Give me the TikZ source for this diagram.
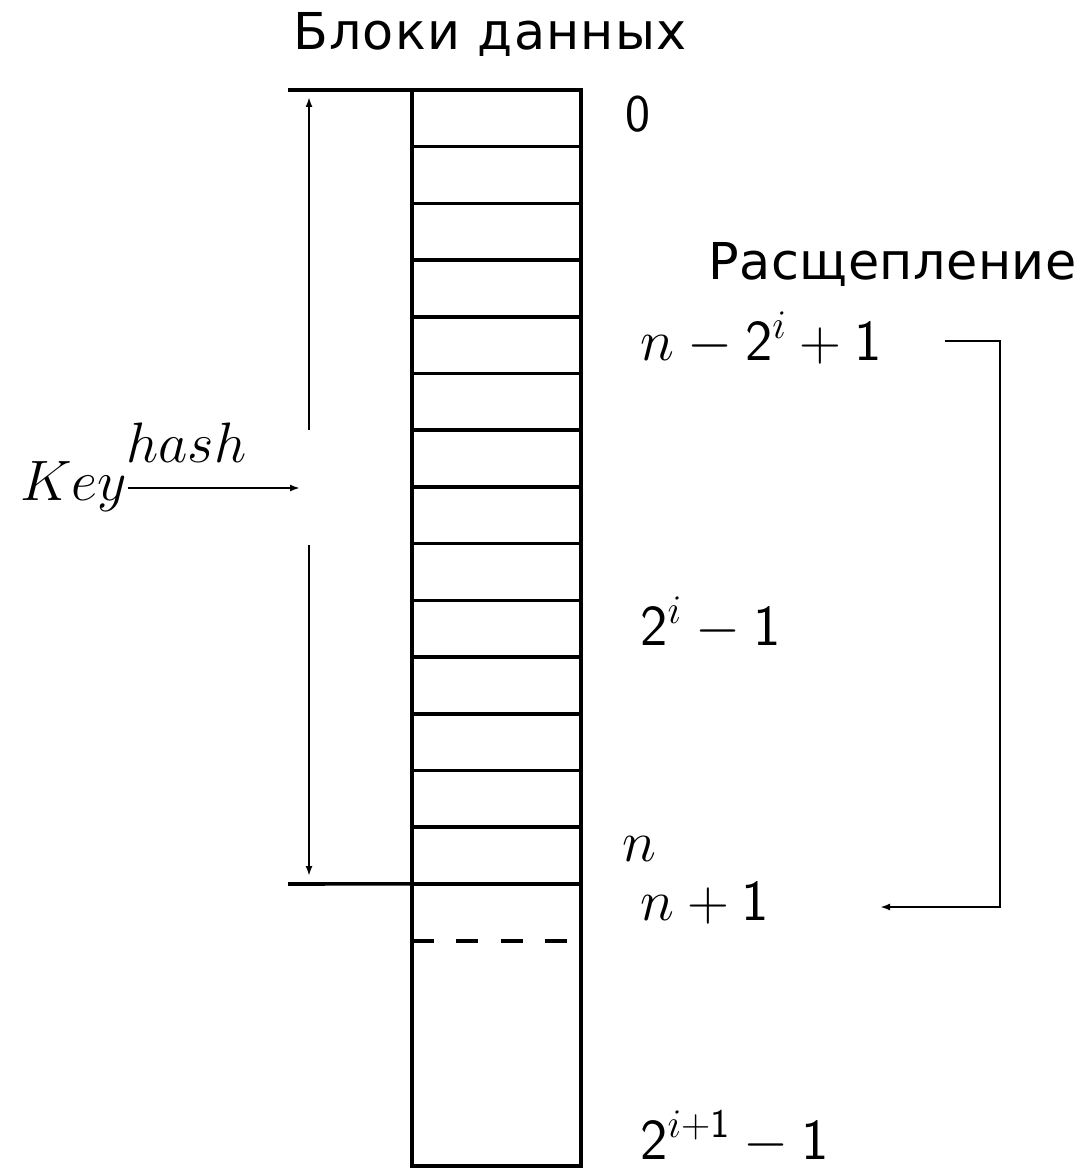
\RequirePackage{fix-cm}
\documentclass[tikz,border=0pt]{standalone}
\usepackage{fontspec}
\newfontfamily\cyr[LetterSpace=2.5]{DejaVu Sans}
\usetikzlibrary{arrows.meta}

\begin{document}
\begin{tikzpicture}[x=0.5pt,y=-0.5pt,
    line/.style={line width=1.8pt},
    cell/.style={draw, line width=1.8pt, minimum width=84.5pt, minimum height=28.35pt, inner sep=0pt, outer sep=0pt},
    arrow/.style={line width=1.4pt,-{Latex[length=5pt,width=3.5pt]}},
    lbl/.style={anchor=base west, inner sep=0pt, font=\fontsize{29}{35}\selectfont},
    title/.style={anchor=base, inner sep=0pt, font=\cyr\fontsize{25.4}{30}\selectfont}
]
\useasboundingbox (0,0) rectangle (1086,1171);

% data blocks
\foreach \i in {0,...,13}
    \node[cell] (c\i) at (496.5,{118.35+56.7*\i}) {};
\node[cell, minimum height=141pt] (tail) at (496.5,1025) {};
\draw[line, dash pattern=on 11pt off 11.2pt] ([yshift=-28.5pt]tail.north west) -- ([yshift=-28.5pt]tail.north east);

\node[title] (blocks) at (490,50) {Блоки данных};
\node[title, anchor=base west] (split) at (708,280) {\addfontfeature{LetterSpace=1}Расщепление};

% range of the hash
\coordinate (topL) at (288,90);
\coordinate (botL) at (288,884);
\draw[line] (topL) -- (c0.north west);
\draw[line] (botL) -- (c13.south west);
\coordinate (gapTop) at (309,430);
\coordinate (gapBot) at (309,545);
\coordinate (rangeTop) at (309,97);
\coordinate (rangeBot) at (309,876);
\draw[arrow] (gapTop) -- (rangeTop);
\draw[arrow] (gapBot) -- (rangeBot);

\node[lbl, font=\fontsize{28.5}{34}\selectfont] (key) at (20,500) {$Key$};
\node[lbl, font=\fontsize{28.5}{34}\selectfont] (hash) at (126,462) {$hash$};
\coordinate (keyEnd) at (300,488);
\draw[arrow] (key.east |- keyEnd) -- (keyEnd);

% numbers
\node[lbl, font=\sffamily\fontsize{26.5}{32}\selectfont] (zero) at (625,132) {0};
\node[lbl] (lo) at (640,360) {$n-\mathsf{2}^i+\mathsf{1}$};
\node[lbl] (mid) at (640,645) {$\mathsf{2}^i-\mathsf{1}$};
\node[lbl] (nn) at (622,861) {$n$};
\node[lbl] (np) at (640,920) {$n+\mathsf{1}$};
\node[lbl] (hi) at (640,1159) {$\mathsf{2}^{i+\mathsf{1}}-\mathsf{1}$};

% splitting
\coordinate (splitFrom) at (945,341);
\coordinate (splitTo) at (880,907);
\draw[arrow] (splitFrom) -- ++(55,0) |- (splitTo);

\end{tikzpicture}
\end{document}
